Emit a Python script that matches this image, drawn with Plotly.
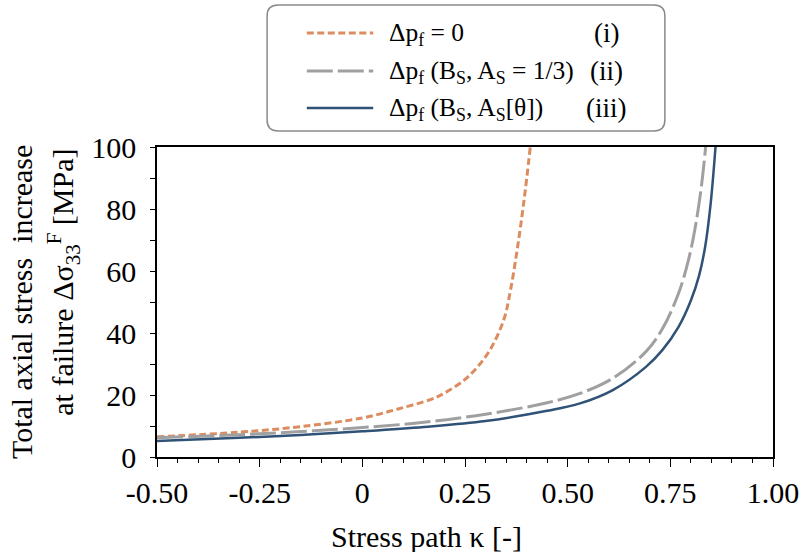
import plotly.graph_objects as go

# ---------------- data ----------------
kappa_i = [-0.50, -0.30, -0.15, 0.00, 0.087, 0.167, 0.20, 0.248, 0.28, 0.312, 0.345, 0.361, 0.377, 0.393, 0.409]
sigma_i = [6.5, 8.0, 9.8, 12.6, 15.5, 18.6, 20.6, 24.8, 29.0, 34.8, 44.5, 54.0, 66.8, 82.0, 100.0]

kappa_ii = [-0.50, -0.30, -0.15, 0.00, 0.15, 0.30, 0.45, 0.53, 0.61, 0.69, 0.73, 0.77, 0.795, 0.812, 0.826, 0.836]
sigma_ii = [6.2, 7.2, 8.2, 9.5, 11.2, 13.8, 17.5, 20.5, 25.4, 33.9, 41.2, 52.8, 64.0, 75.1, 87.7, 100.0]

kappa_iii = [-0.50, -0.30, -0.15, 0.00, 0.15, 0.30, 0.45, 0.53, 0.61, 0.69, 0.73, 0.77, 0.80, 0.82, 0.835, 0.848, 0.86]
sigma_iii = [5.2, 6.2, 7.1, 8.3, 9.7, 11.6, 14.9, 17.3, 21.6, 29.0, 34.4, 42.0, 50.5, 58.5, 68.0, 81.5, 100.0]

x_tickvals = [-0.5, -0.25, 0, 0.25, 0.5, 0.75, 1.0]
x_ticktext = ["-0.50", "-0.25", "0", "0.25", "0.50", "0.75", "1.00"]
y_tickvals = [0, 20, 40, 60, 80, 100]

legend_labels = ["Δp<sub>f</sub> = 0",
                 "Δp<sub>f</sub> (B<sub>S</sub>, A<sub>S</sub> = 1/3)",
                 "Δp<sub>f</sub> (B<sub>S</sub>, A<sub>S</sub>[θ])"]
legend_tags = ["(i)", "(ii)", "(iii)"]

# ---------------- styles ----------------
FONT = "Liberation Serif, Times New Roman, Times, serif"
C_OR = "#DD8C5F"
C_GR = "#A0A0A0"
C_BL = "#2F5276"
styles = [
    dict(color=C_OR, width=3, dash="7px,3.5px"),
    dict(color=C_GR, width=3, dash="26px,5px"),
    dict(color=C_BL, width=2.5, dash="solid"),
]

W, H = 811, 552
L, R, T, B = 157, 33, 147, 95
PW, PH = W - L - R, H - T - B


def px(xp):
    return (xp - L) / PW


def py(yp):
    return (H - B - yp) / PH


def f(size):
    return dict(family=FONT, size=size, color="black")


fig = go.Figure()
for (kx, sy), st, name in zip([(kappa_i, sigma_i), (kappa_ii, sigma_ii), (kappa_iii, sigma_iii)],
                             styles, legend_labels):
    fig.add_trace(go.Scatter(x=kx, y=sy, mode="lines", name=name,
                             line=dict(shape="spline", smoothing=1.0, **st),
                             showlegend=False))

shapes = []
annotations = []

# legend box with rounded corners
x0, x1, y0, y1, r = px(268), px(669), py(5), py(131), 11
rx, ry = r / PW, r / PH
path = (f"M{x0+rx},{y0} L{x1-rx},{y0} Q{x1},{y0} {x1},{y0-ry} "
        f"L{x1},{y1+ry} Q{x1},{y1} {x1-rx},{y1} "
        f"L{x0+rx},{y1} Q{x0},{y1} {x0},{y1+ry} "
        f"L{x0},{y0-ry} Q{x0},{y0} {x0+rx},{y0} Z")
shapes.append(dict(type="path", xref="paper", yref="paper", path=path,
                   line=dict(color="#8a8a8a", width=1.5), fillcolor="white", layer="above"))

rows = [33, 71, 108]
for rowy, st, lab, tag in zip(rows, styles, legend_labels, legend_tags):
    shapes.append(dict(type="line", xref="paper", yref="paper",
                       x0=px(308), x1=px(375), y0=py(rowy), y1=py(rowy),
                       line=st, layer="above"))
    annotations.append(dict(xref="paper", yref="paper", x=px(389), y=py(rowy + 1),
                            xanchor="left", yanchor="middle", text=lab, showarrow=False,
                            font=f(25.5)))
    annotations.append(dict(xref="paper", yref="paper", x=px(610), y=py(rowy),
                            xanchor="center", yanchor="middle", text=tag, showarrow=False,
                            font=f(27)))

# axis titles
annotations.append(dict(xref="paper", yref="paper", x=px(429), y=py(536),
                        xanchor="center", yanchor="middle", text="Stress path κ [-]",
                        showarrow=False, font=f(30)))
annotations.append(dict(xref="paper", yref="paper", x=px(20), y=py(302),
                        xanchor="center", yanchor="middle", textangle=-90,
                        text="Total axial stress&nbsp; increase",
                        showarrow=False, font=f(30)))
annotations.append(dict(xref="paper", yref="paper", x=px(62), y=py(282),
                        xanchor="center", yanchor="middle", textangle=-90,
                        text="at failure Δσ<sub>33</sub><sup>F</sup> [MPa]",
                        showarrow=False, font=f(30)))

fig.update_layout(
    width=W, height=H,
    margin=dict(l=L, r=R, t=T, b=B, pad=0),
    paper_bgcolor="white", plot_bgcolor="white",
    font=f(30),
    shapes=shapes, annotations=annotations,
    showlegend=False,
)
fig.update_xaxes(range=[-0.5, 1.0], tickmode="array", tickvals=x_tickvals, ticktext=x_ticktext,
                 ticks="outside", ticklen=8, tickwidth=1.3, tickcolor="black",
                 minor=dict(dtick=0.05, ticks="outside", ticklen=4, tickwidth=1.2, tickcolor="black"),
                 showline=True, linecolor="black", linewidth=1.5, mirror=True,
                 showgrid=False, zeroline=False, tickfont=f(30))
fig.update_yaxes(range=[0, 100], tickmode="array", tickvals=y_tickvals,
                 ticks="outside", ticklen=5, tickwidth=1.3, tickcolor="black",
                 minor=dict(dtick=10, ticks="outside", ticklen=5, tickwidth=1.2, tickcolor="black"),
                 showline=True, linecolor="black", linewidth=1.5, mirror=True,
                 showgrid=False, zeroline=False, tickfont=f(30),
                 ticklabelstandoff=8)

fig.write_html("out.html")
